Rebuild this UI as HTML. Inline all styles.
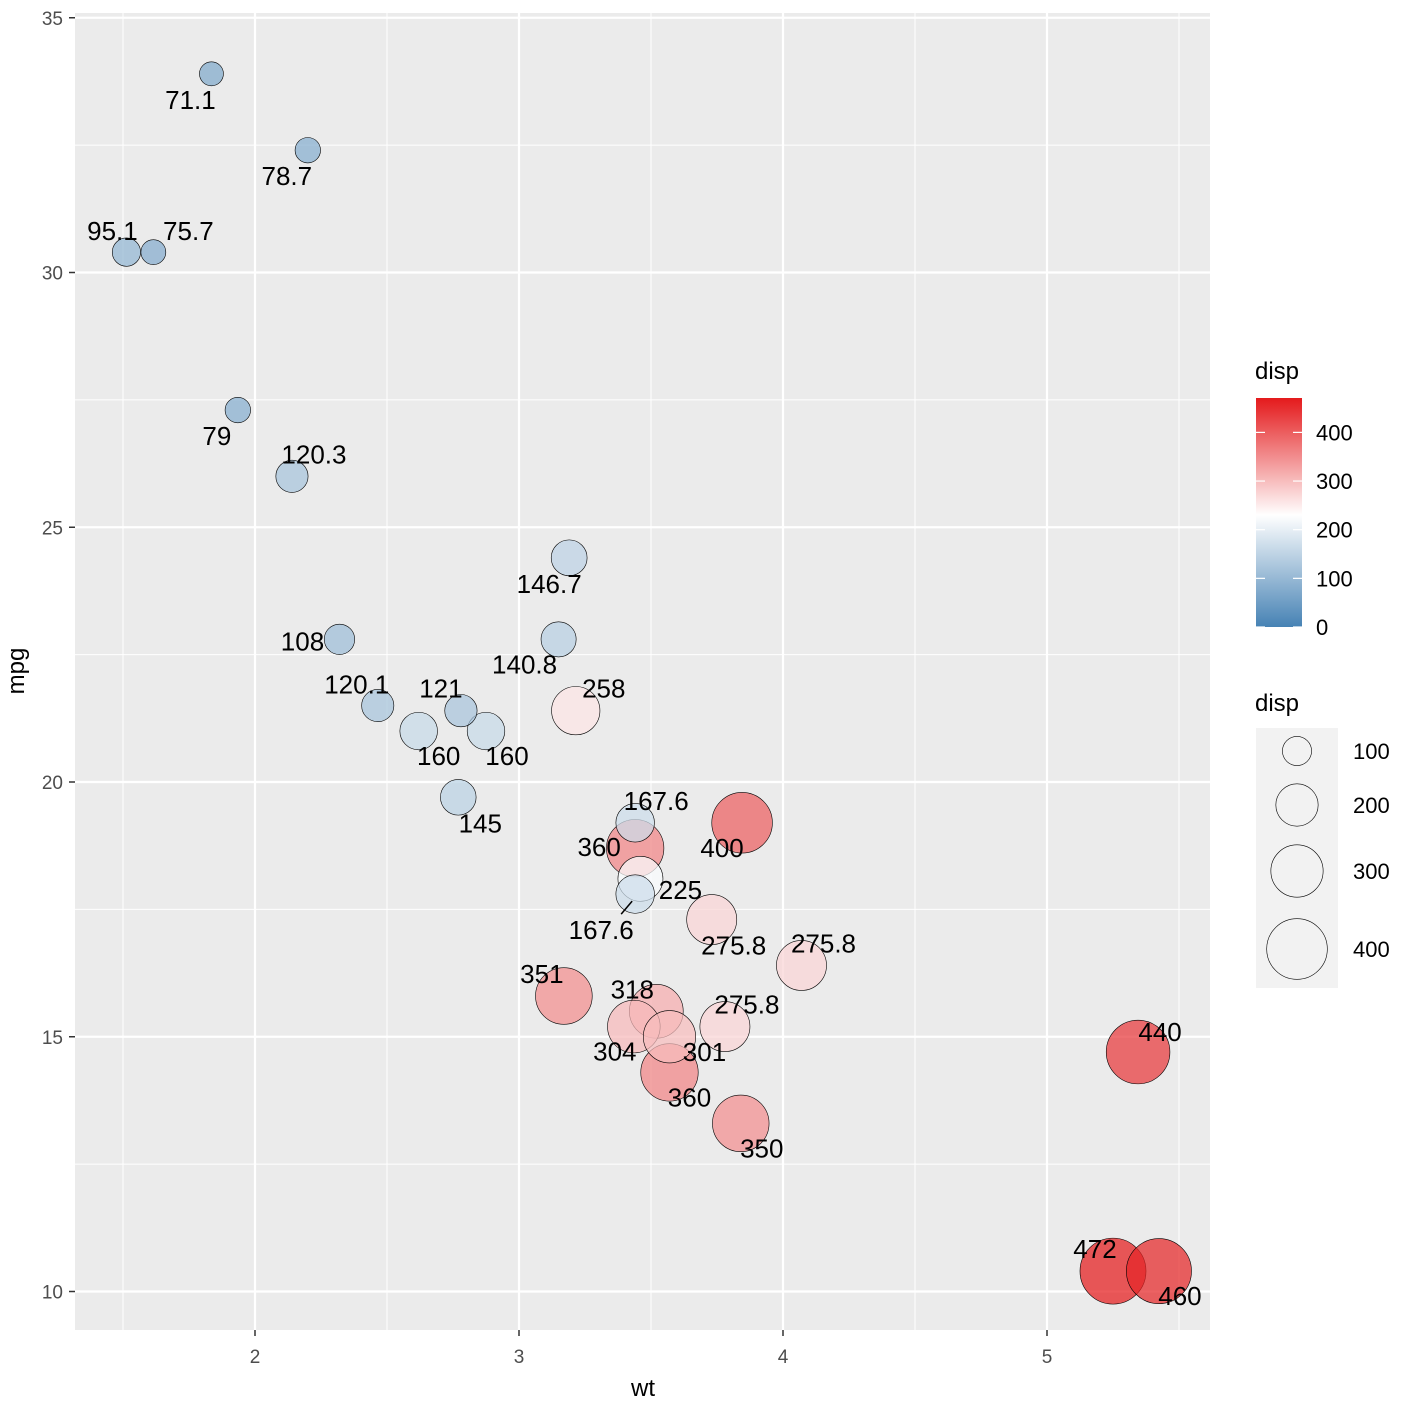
<!DOCTYPE html>
<html><head><meta charset="utf-8"><style>
body{margin:0;background:#fff;}
svg text{font-family:"Liberation Sans",Arial,sans-serif;}
</style></head><body>
<svg id="chart" width="1407" height="1404" xmlns="http://www.w3.org/2000/svg">
<defs>
<linearGradient id="cg" x1="0" y1="1" x2="0" y2="0">
<stop offset="0" stop-color="#4682B4"/>
<stop offset="0.489" stop-color="#ffffff"/>
<stop offset="1" stop-color="#E41A1C"/>
</linearGradient>
</defs>
<rect x="75" y="13" width="1135" height="1317" fill="#EBEBEB"/>
<g id="grid"></g>
<g id="points"></g>
<g id="labels"></g>
<g id="axes"></g>
<text x="643" y="1396" font-size="24" text-anchor="middle">wt</text>
<text x="0" y="0" font-size="24" text-anchor="middle" transform="translate(24,671) rotate(-90)">mpg</text>
<g>
<text x="1255" y="379" font-size="24">disp</text>
<rect x="1256" y="398" width="46" height="229" fill="url(#cg)"/>
<g id="cticks"></g>
</g>
<g>
<text x="1255" y="711" font-size="24">disp</text>
<rect x="1256" y="728" width="82" height="260" fill="#F2F2F2"/>
<g id="skeys"></g>
</g>
</svg>
<script>
const wt=[2.620,2.875,2.320,3.215,3.440,3.460,3.570,3.190,3.150,3.440,3.440,4.070,3.730,3.780,5.250,5.424,5.345,2.200,1.615,1.835,2.465,3.520,3.435,3.840,3.845,1.935,2.140,1.513,3.170,2.770,3.570,2.780];
const mpg=[21.0,21.0,22.8,21.4,18.7,18.1,14.3,24.4,22.8,19.2,17.8,16.4,17.3,15.2,10.4,10.4,14.7,32.4,30.4,33.9,21.5,15.5,15.2,13.3,19.2,27.3,26.0,30.4,15.8,19.7,15.0,21.4];
const disp=[160,160,108,258,360,225,360,146.7,140.8,167.6,167.6,275.8,275.8,275.8,472,460,440,78.7,75.7,71.1,120.1,318,304,350,400,79,120.3,95.1,351,145,301,121];
const xTicks=[2,3,4,5];
const yTicks=[10,15,20,25,30,35];
const colorTicks=[0,100,200,300,400];
const sizeTicks=[100,200,300,400];
// label offsets (px) for repelled labels
const ldx=[20,21,-37,28,-36,40,20,-20,-34,21,-34,22,22,22,-18,21,22,-21,35,-21,-21,-24,-19,21,-20,-21,22,-14,-22,22,35,-20];
const ldy=[25,25,2,-22,-1,11,25,26,25,-22,36,-22,26,-22,-22,25,-20,26,-21,26,-21,-22,25,25,25,26,-22,-21,-22,26,15,-22];

const NS="http://www.w3.org/2000/svg";
const X=v=>255+(v-2)*264;
const Y=v=>782-(v-20)*50.95;
const dmin=71.1,dmax=472,mid=230.72;
const R=d=>Math.sqrt(144+(d-dmin)/(dmax-dmin)*(33*33-144));
function lerp(a,b,t){return a.map((v,i)=>Math.round(v+(b[i]-v)*t));}
function col(d){const lo=[70,130,180],w=[255,255,255],hi=[228,26,28];
 let c=d<mid?lerp(lo,w,Math.max(0,d)/mid):lerp(w,hi,Math.min(1,(d-mid)/(472-mid)));
 return `rgb(${c[0]},${c[1]},${c[2]})`;}
function mk(tag,attrs,parent){const e=document.createElementNS(NS,tag);for(const k in attrs)e.setAttribute(k,attrs[k]);parent.appendChild(e);return e;}
const grid=document.getElementById('grid');
for(let v=1.5;v<=5.5;v+=1){const l=mk('line',{x1:X(v),x2:X(v),y1:13,y2:1330,stroke:'#fff','stroke-width':1},grid);

}
for(let v=12.5;v<=32.5;v+=5){const l=mk('line',{x1:75,x2:1210,y1:Y(v),y2:Y(v),stroke:'#fff','stroke-width':1},grid);

}
const axes=document.getElementById('axes');
xTicks.forEach(v=>{const l=mk('line',{x1:X(v),x2:X(v),y1:13,y2:1330,stroke:'#fff','stroke-width':2.2},grid);


const t=mk('line',{x1:X(v),x2:X(v),y1:1330,y2:1336,stroke:'#333','stroke-width':1.5},axes);


const tx=mk('text',{x:X(v),y:1363,'font-size':19,fill:'#4D4D4D','text-anchor':'middle'},axes);tx.textContent=v;

});
yTicks.forEach(v=>{const l=mk('line',{x1:75,x2:1210,y1:Y(v),y2:Y(v),stroke:'#fff','stroke-width':2.2},grid);


const t=mk('line',{x1:69,x2:75,y1:Y(v),y2:Y(v),stroke:'#333','stroke-width':1.5},axes);


const tx=mk('text',{x:63,y:Y(v)+7,'font-size':19,fill:'#4D4D4D','text-anchor':'end'},axes);tx.textContent=v;

});
const pts=document.getElementById('points'),labs=document.getElementById('labels');
wt.forEach((w,i)=>{const c=mk('circle',{cx:X(w),cy:Y(mpg[i]),r:R(disp[i]),fill:col(disp[i]),'fill-opacity':0.72,stroke:'#000','stroke-width':0.6},pts);

});
wt.forEach((w,i)=>{const px=X(w),py=Y(mpg[i]);
if(i===10){const s=mk('line',{x1:px-3,y1:py+7,x2:px-14,y2:py+20,stroke:'#000','stroke-width':1.5},labs);

}
const t=mk('text',{x:px+ldx[i],y:py+ldy[i]+9,'font-size':26,'text-anchor':'middle',fill:'#000'},labs);t.textContent=disp[i];

});
const ct=document.getElementById('cticks');
colorTicks.forEach(v=>{const y=627-v*0.4865;
mk('line',{x1:1256,x2:1265,y1:y,y2:y,stroke:'#fff','stroke-width':1.2},ct);
mk('line',{x1:1293,x2:1302,y1:y,y2:y,stroke:'#fff','stroke-width':1.2},ct);
const t=mk('text',{x:1316,y:y+8,'font-size':22},ct);t.textContent=v;

});
const sk=document.getElementById('skeys');
const skY=[751,805,871,949];
sizeTicks.forEach((v,i)=>{const c=mk('circle',{cx:1297,cy:skY[i],r:R(v),fill:'#F2F2F2',stroke:'#000','stroke-width':0.6},sk);


const t=mk('text',{x:1353,y:skY[i]+8,'font-size':22},sk);t.textContent=v;

});
</script>
</body></html>
